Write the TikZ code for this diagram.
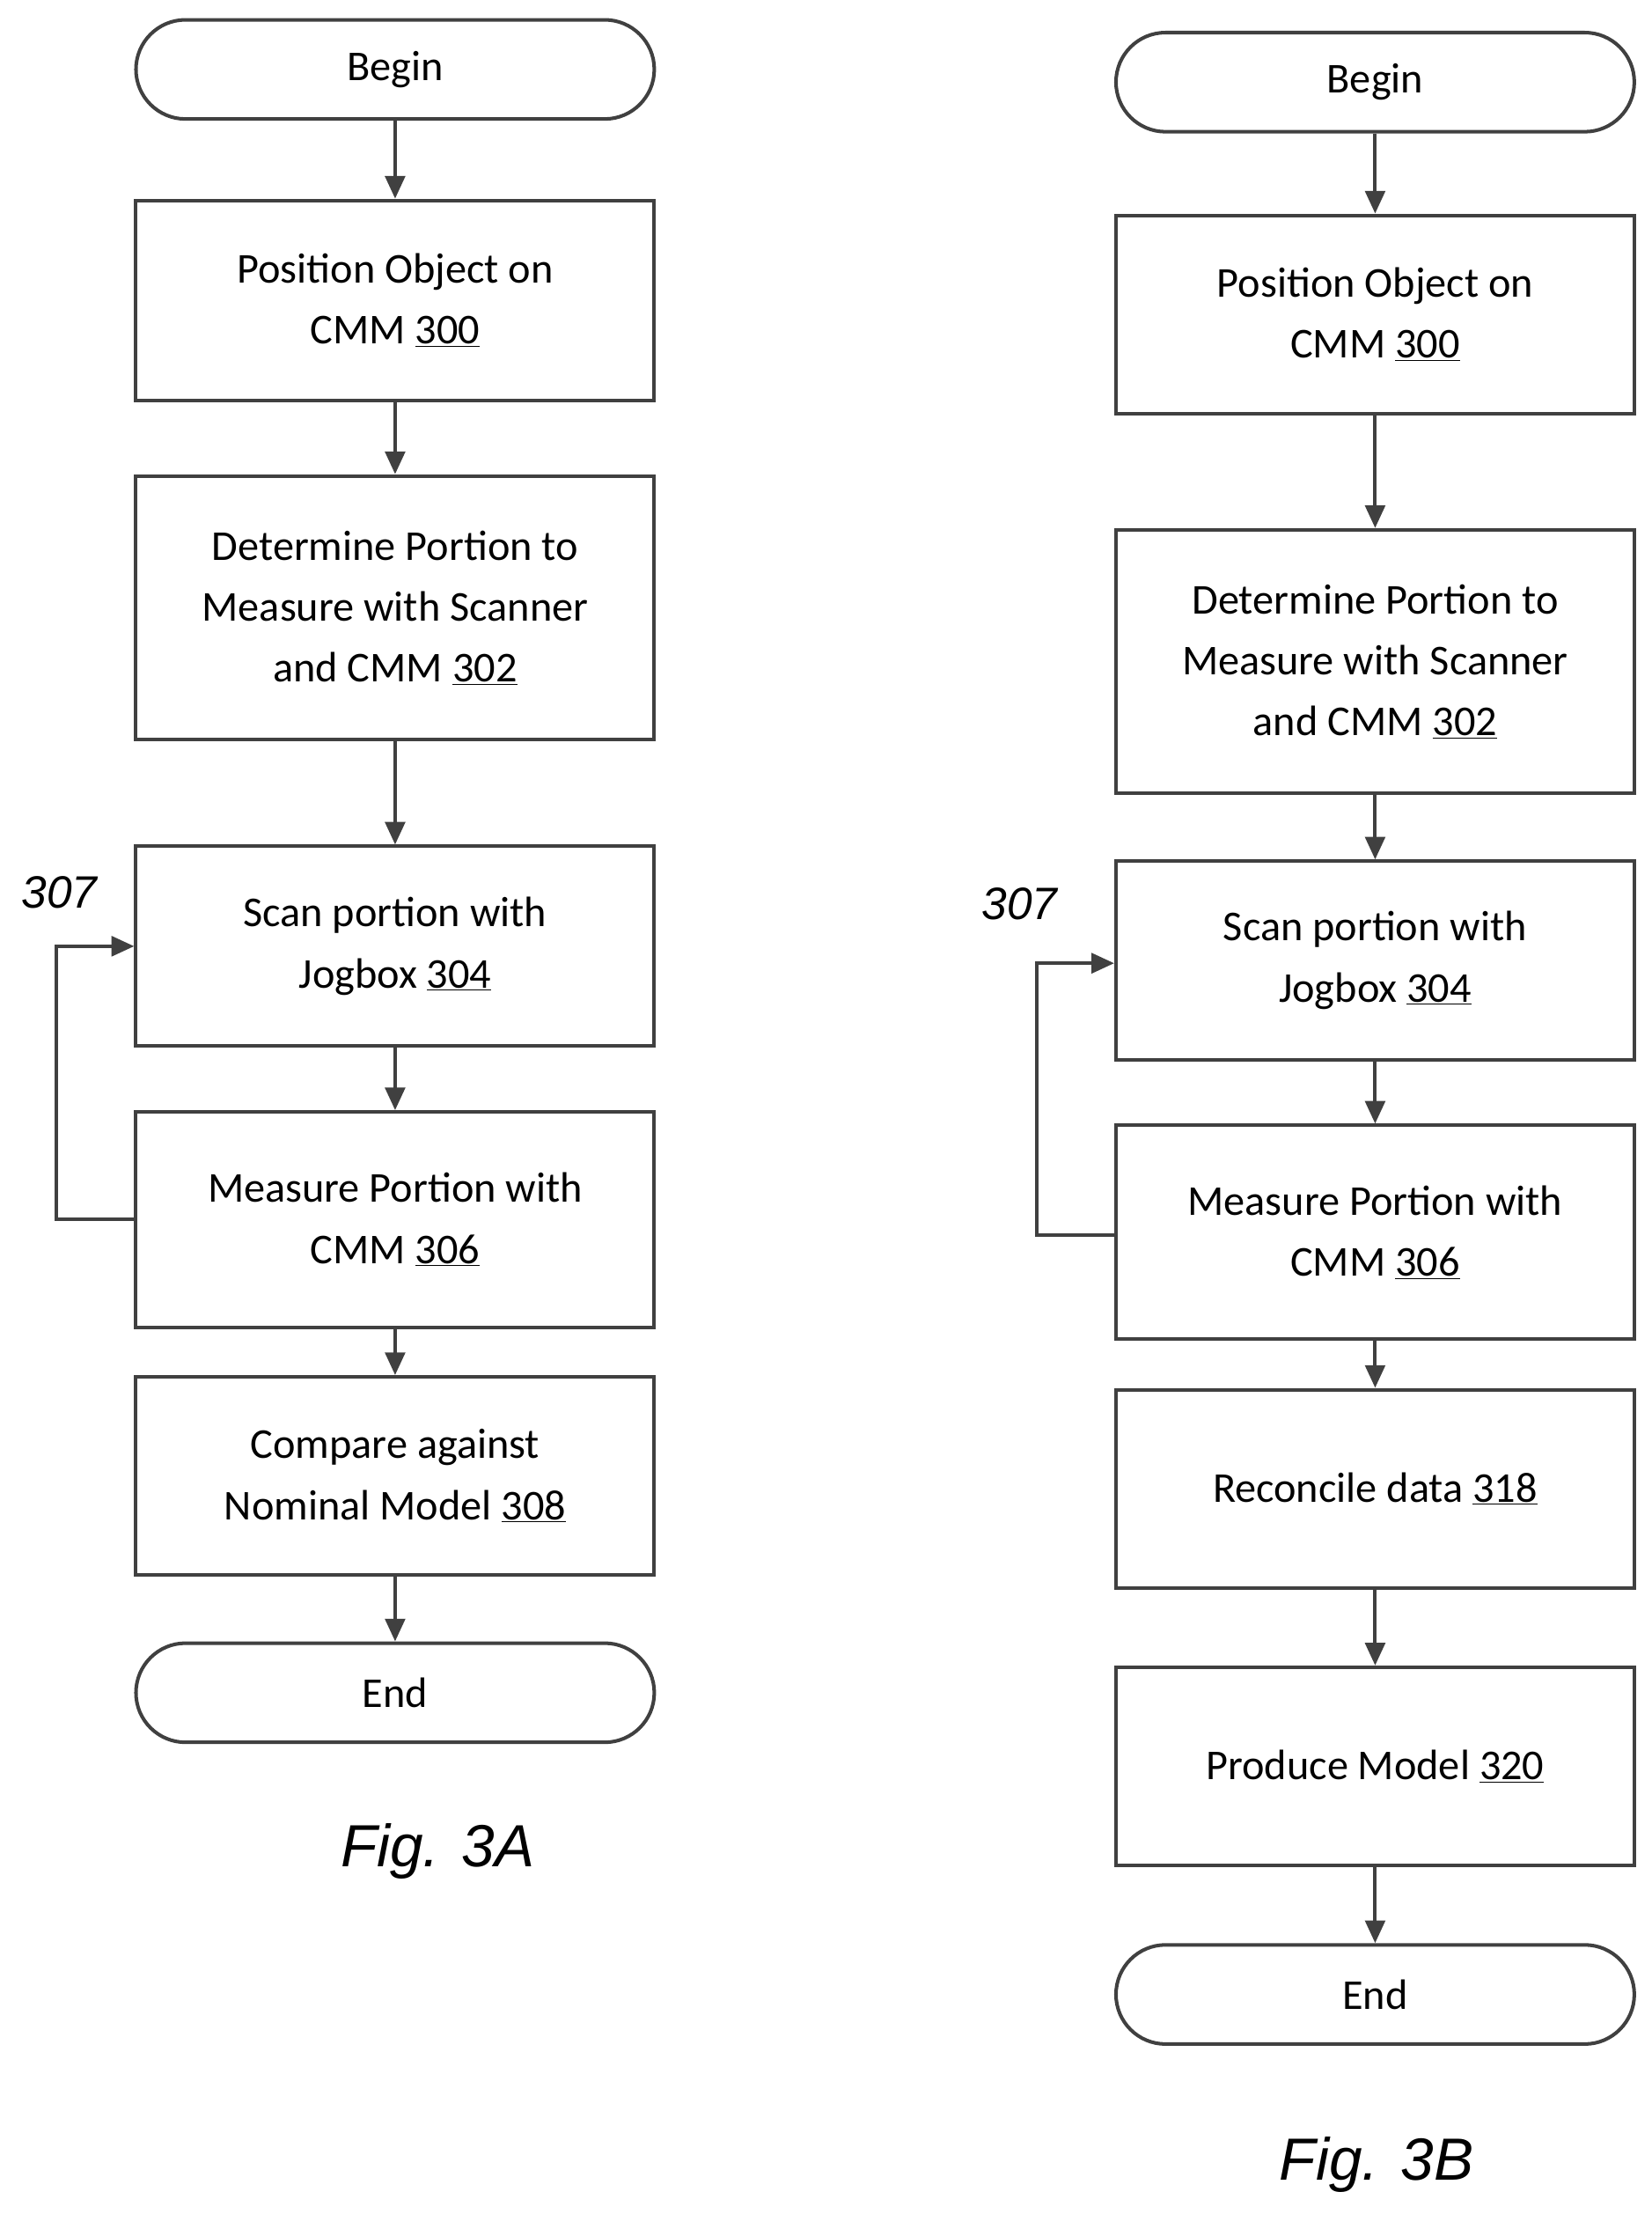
\documentclass[tikz,border=0pt]{standalone}
\usepackage{fontspec}
\setmainfont{Carlito}
\newfontfamily\figfont{Liberation Sans}
\usetikzlibrary{arrows.meta}
\definecolor{ln}{RGB}{64, 64, 64}
\tikzset{
  procbox/.style={draw=ln, line width=2.5pt, minimum width=366pt, align=center, inner sep=0pt, font=\fontsize{30}{43}\selectfont},
  term/.style={procbox, rounded corners=35pt, minimum height=70pt},
  flow/.style={draw=ln, line width=2.5pt, -{Triangle[length=16pt, width=14pt]}},
}
\begin{document}
\begin{tikzpicture}[x=1pt, y=-1pt]
\useasboundingbox (0,0) rectangle (1166,1563);
% Fig. 3A
\node (aBegin) [term] at (279, 49) {Begin};
\node (a300) [procbox, minimum height=141pt] at (279, 212) {Position Object on\\CMM \underline{300}};
\node (a302) [procbox, minimum height=186pt] at (279, 429) {Determine Portion to\\Measure with Scanner\\and CMM \underline{302}};
\node (a304) [procbox, minimum height=141pt] at (279, 668) {Scan portion with\\Jogbox \underline{304}};
\node (a306) [procbox, minimum height=152pt] at (279, 861) {Measure Portion with\\CMM \underline{306}};
\node (a308) [procbox, minimum height=140pt] at (279, 1042) {Compare against\\Nominal Model \underline{308}};
\node (aEnd) [term] at (279, 1195) {End};
\node (aFig) [font=\figfont\itshape\fontsize{42}{50}\selectfont] at (309, 1307) {Fig. 3A};
\node (a307) [font=\figfont\itshape\fontsize{32}{38}\selectfont] at (42, 630) {307};
\coordinate (aLoopB) at (40, 861);
\coordinate (aLoopT) at (40, 668);
\draw [flow] (aBegin) to (a300);
\draw [flow] (a300) to (a302);
\draw [flow] (a302) to (a304);
\draw [flow] (a304) to (a306);
\draw [flow] (a306) to (a308);
\draw [flow] (a308) to (aEnd);
\draw [flow] (a306.west) -- (aLoopB) -- (aLoopT) -- (a304.west);
% Fig. 3B
\node (bBegin) [term] at (971, 58) {Begin};
\node (b300) [procbox, minimum height=140pt] at (971, 222) {Position Object on\\CMM \underline{300}};
\node (b302) [procbox, minimum height=186pt] at (971, 467) {Determine Portion to\\Measure with Scanner\\and CMM \underline{302}};
\node (b304) [procbox, minimum height=140pt] at (971, 678) {Scan portion with\\Jogbox \underline{304}};
\node (b306) [procbox, minimum height=151pt] at (971, 870) {Measure Portion with\\CMM \underline{306}};
\node (b318) [procbox, minimum height=140pt] at (971, 1051) {Reconcile data \underline{318}};
\node (b320) [procbox, minimum height=140pt] at (971, 1247) {Produce Model \underline{320}};
\node (bEnd) [term] at (971, 1408) {End};
\node (bFig) [font=\figfont\itshape\fontsize{42}{50}\selectfont] at (972, 1528) {Fig. 3B};
\node (b307) [font=\figfont\itshape\fontsize{32}{38}\selectfont] at (720, 638) {307};
\coordinate (bLoopB) at (732, 872);
\coordinate (bLoopT) at (732, 680);
\draw [flow] (b306.west |- bLoopB) -- (bLoopB) -- (bLoopT) -- (b304.west |- bLoopT);
\draw [flow] (bBegin) to (b300);
\draw [flow] (b300) to (b302);
\draw [flow] (b302) to (b304);
\draw [flow] (b304) to (b306);
\draw [flow] (b306) to (b318);
\draw [flow] (b318) to (b320);
\draw [flow] (b320) to (bEnd);
\end{tikzpicture}
\end{document}
